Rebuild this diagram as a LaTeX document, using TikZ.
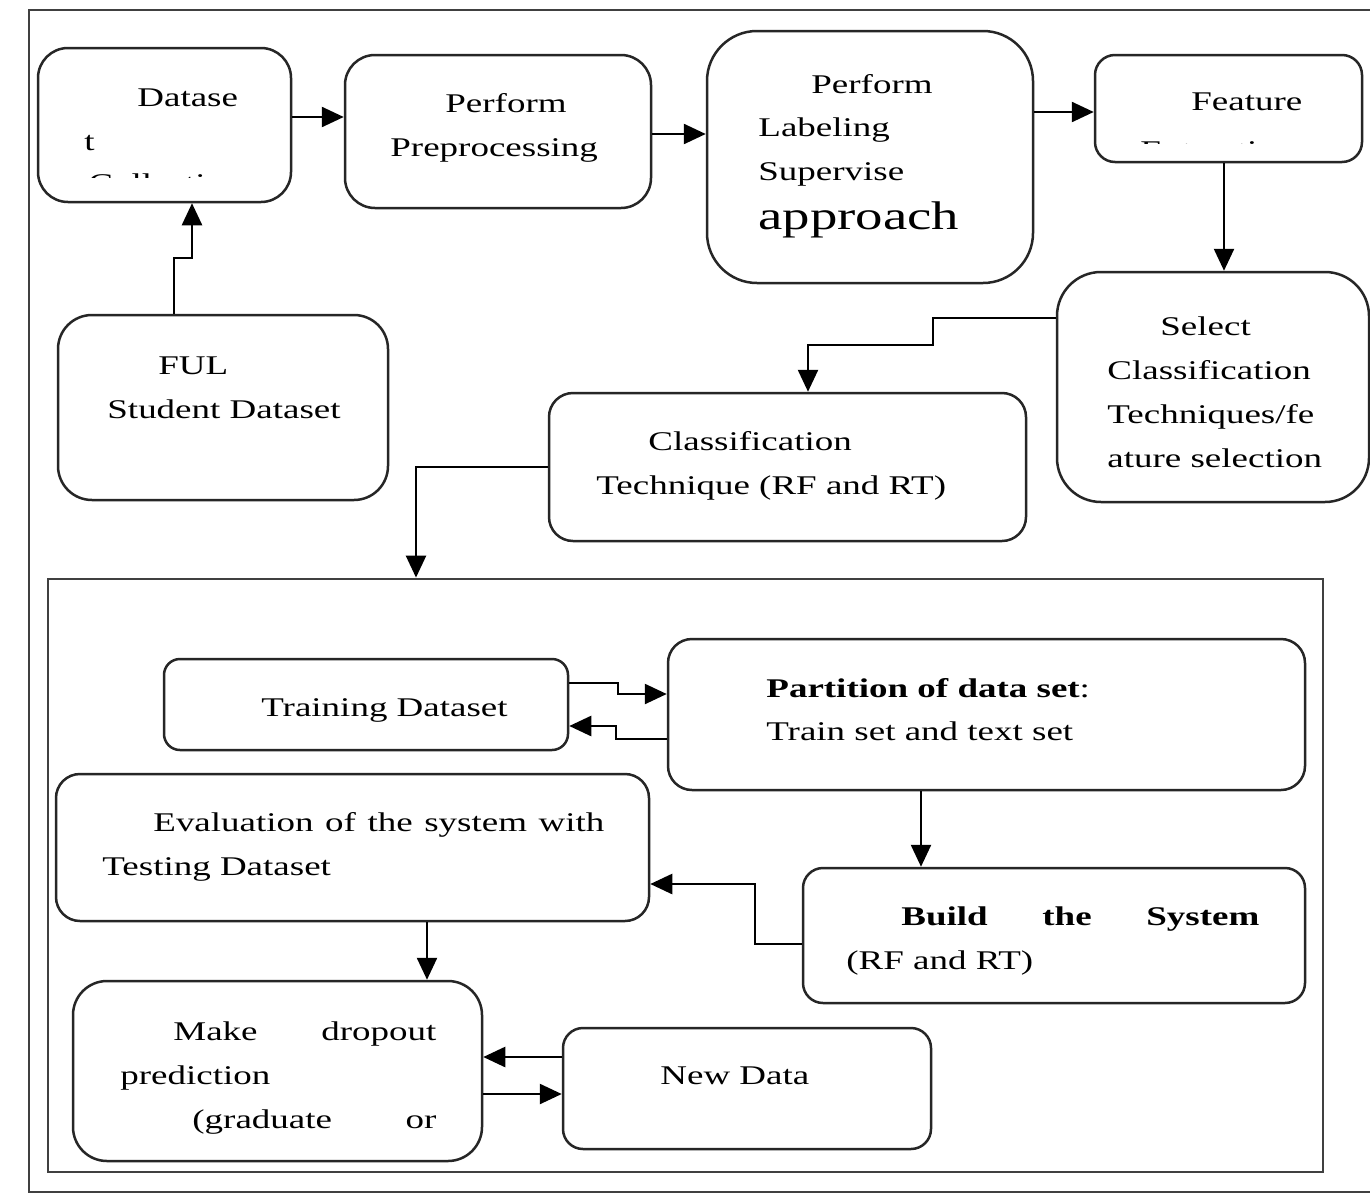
\documentclass[tikz,border=0pt]{standalone}
\usepackage{fontspec}
\setmainfont{Liberation Serif}[FakeStretch=1.37]
\usetikzlibrary{arrows.meta,fit}
\begin{document}
\begin{tikzpicture}[x=0.5pt,y=-0.5pt,
  box/.style={draw=black!85, line width=1.25pt, rounded corners=#1, inner sep=0pt},
  box/.default=12pt,
  frame/.style={draw=black!75, line width=1.4pt, inner sep=0pt},
  txt/.style={anchor=base west, inner sep=0pt, font=\fontsize{13.5}{16}\selectfont},
  bigtxt/.style={anchor=base west, inner sep=0pt, font=\fontsize{20}{24}\selectfont},
  arr/.style={line width=1.25pt, -{Triangle[length=11pt,width=10pt]}}]
\useasboundingbox (0,0) rectangle (1370,1194);
\fill[white] (0,0) rectangle (1370,1194);
% frames
\draw[frame] (29,10) rectangle (1390,1192);
\node[frame, fit={(48,579) (1323,1172)}] (inner) {};
% boxes
\node[box=15pt, fit={(38,48) (291,202)}] (dataset) {};
\node[box=15pt, fit={(345,55) (651,208)}] (prep) {};
\node[box=25pt, fit={(707,31) (1033,283)}] (label) {};
\node[box=10pt, fit={(1095,55) (1362,162)}] (feat) {};
\node[box=17pt, fit={(58,315) (388,500)}] (ful) {};
\node[box=22pt, fit={(1057,272) (1369,502)}] (select) {};
\node[box=12pt, fit={(549,393) (1026,541)}] (clas) {};
\node[box=8pt, fit={(164,659) (568,750)}] (train) {};
\node[box=12pt, fit={(668,639) (1305,790)}] (part) {};
\node[box=12pt, fit={(56,774) (649,921)}] (eval) {};
\node[box=10pt, fit={(803,868) (1305,1003)}] (build) {};
\node[box=17pt, fit={(73,981) (482,1161)}] (make) {};
\node[box=10pt, fit={(563,1028) (931,1149)}] (newd) {};
% texts
\node[txt] (t1a) at (137,106) {Datase};
\node[txt] (t1b) at (84,150) {t};
\begin{scope}
\clip (40,150) rectangle (289,177);
\node[txt] (t1c) at (88,192) {Collection};
\end{scope}
\node[txt] (t2a) at (445,112) {Perform};
\node[txt] (t2b) at (390,156) {Preprocessing};
\node[txt] (t3a) at (811,93) {Perform};
\node[txt] (t3b) at (758,136) {Labeling};
\node[txt] (t3c) at (758,180) {Supervise};
\node[bigtxt] (t3d) at (758,229) {approach};
\node[txt] (t4a) at (1191,110) {Feature};
\begin{scope}
\clip (1097,120) rectangle (1360,143);
\node[txt] (t4b) at (1140,159) {Extraction};
\end{scope}
\node[txt] (t5a) at (158,374) {FUL};
\node[txt] (t5b) at (107,418) {Student Dataset};
\node[txt] (t6a) at (1160,335) {Select};
\node[txt] (t6b) at (1107,379) {Classification};
\node[txt] (t6c) at (1107,423) {Techniques/fe};
\node[txt] (t6d) at (1107,467) {ature selection};
\node[txt] (t7a) at (648,450) {Classification};
\node[txt] (t7b) at (596,494) {Technique (RF and RT)};
\node[txt] (t8a) at (261,716) {Training Dataset};
\node[txt] (t9a) at (766,697) {\textbf{Partition of data set}:};
\node[txt] (t9b) at (766,740) {Train set and text set};
\node[txt] (t10a) at (153,831) {\hbox to 225.5pt{Evaluation\hfill of\hfill the\hfill system\hfill with}};
\node[txt] (t10b) at (102,875) {Testing Dataset};
\node[txt] (t11a) at (901,925) {\hbox to 179pt{\bfseries Build\hfill the\hfill System}};
\node[txt] (t11b) at (846,969) {(RF and RT)};
\node[txt] (t12a) at (173,1040) {\hbox to 131.5pt{Make\hfill dropout}};
\node[txt] (t12b) at (120,1084) {prediction};
\node[txt] (t12c) at (192,1128) {\hbox to 122pt{(graduate\hfill or}};
\node[txt] (t13a) at (660,1084) {New Data};
% connectors
\draw[arr] (dataset.east |- 0,117) -- (prep.west |- 0,117);
\draw[arr] (prep.east |- 0,134) -- (label.west |- 0,134);
\draw[arr] (label.east |- 0,112) -- (feat.west |- 0,112);
\draw[arr] (feat.south -| 1224,0) -- (select.north -| 1224,0);
\draw[arr] (ful.north -| 174,0) |- (192,258) -- (dataset.south -| 192,0);
\draw[arr] (select.west |- 0,318) -| (933,345) -| (clas.north -| 808,0);
\draw[arr] (clas.west |- 0,467) -| (inner.north -| 416,0);
\draw[arr] (train.east |- 0,683) -- (618,683) |- (part.west |- 0,694);
\draw[arr] (part.west |- 0,739) -- (616,739) |- (train.east |- 0,726);
\draw[arr] (part.south -| 921,0) -- (build.north -| 921,0);
\draw[arr] (build.west |- 0,944) -- (755,944) |- (eval.east |- 0,884);
\draw[arr] (eval.south -| 427,0) -- (make.north -| 427,0);
\draw[arr] (newd.west |- 0,1057) -- (make.east |- 0,1057);
\draw[arr] (make.east |- 0,1094) -- (newd.west |- 0,1094);
\end{tikzpicture}
\end{document}
